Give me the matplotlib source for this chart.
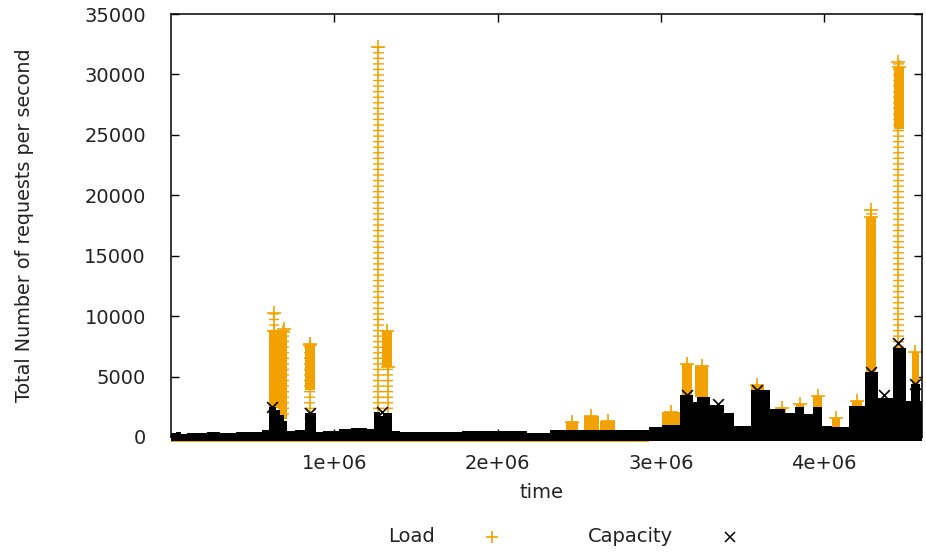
import matplotlib
matplotlib.use("Agg")
import matplotlib.pyplot as plt
from matplotlib.lines import Line2D
from matplotlib.ticker import FuncFormatter
import numpy as np

ORANGE = "#f2a200"

# capacity envelope (black), step profile: time (s) -> requests/s
cap_t = [0.00e6, 0.03e6, 0.06e6, 0.10e6, 0.16e6, 0.22e6, 0.30e6, 0.40e6, 0.50e6,
         0.56e6, 0.60e6, 0.645e6, 0.67e6, 0.69e6, 0.71e6, 0.76e6, 0.82e6, 0.89e6,
         0.93e6, 1.03e6, 1.10e6, 1.20e6, 1.245e6, 1.28e6, 1.30e6, 1.355e6, 1.40e6,
         1.55e6, 1.78e6, 1.95e6, 2.18e6, 2.32e6, 2.50e6, 2.63e6, 2.80e6, 2.93e6,
         3.01e6, 3.12e6, 3.20e6, 3.22e6, 3.30e6, 3.39e6, 3.45e6, 3.55e6, 3.67e6,
         3.76e6, 3.82e6, 3.88e6, 3.93e6, 3.99e6, 4.05e6, 4.15e6, 4.25e6, 4.33e6,
         4.42e6, 4.50e6, 4.53e6, 4.59e6, 4.60e6]
cap_v = [300, 450, 250, 300, 350, 450, 350, 400, 450,
         600, 2500, 2200, 1800, 1300, 500, 550, 2000, 450,
         500, 700, 750, 650, 2100, 1700, 2000, 500, 400,
         450, 500, 520, 330, 580, 620, 560, 600, 800,
         1000, 3500, 2900, 3300, 2650, 2000, 900, 3900, 2300,
         2000, 2500, 1900, 2500, 900, 800, 2600, 5400, 3200,
         7400, 3000, 4400, 3000, 3000]

# load: solid blocks of '+' points (start, end, low, high)
blk_t0 = [0.60e6, 0.66e6, 0.82e6, 1.29e6, 2.42e6, 2.53e6, 2.63e6, 3.01e6, 3.13e6,
          3.21e6, 3.55e6, 3.72e6, 3.83e6, 3.93e6, 4.05e6, 4.17e6, 4.26e6, 4.43e6, 4.54e6]
blk_t1 = [0.66e6, 0.71e6, 0.88e6, 1.355e6, 2.49e6, 2.62e6, 2.72e6, 3.12e6, 3.19e6,
          3.29e6, 3.63e6, 3.77e6, 3.88e6, 3.99e6, 4.10e6, 4.23e6, 4.32e6, 4.49e6, 4.58e6]
blk_lo = [2400, 1500, 3900, 5800, 300, 300, 300, 800, 3400,
          3300, 3900, 2000, 2000, 2000, 800, 2600, 5400, 25500, 4400]
blk_hi = [8800, 8700, 7600, 8800, 1200, 1700, 1300, 2100, 6000,
          5900, 4300, 2400, 2700, 3400, 1600, 3000, 18200, 30600, 7000]

# load: sparse columns of '+' points (centre, low, high)
col_t = [0.63e6, 0.69e6, 0.85e6, 1.27e6, 1.33e6, 4.29e6, 4.455e6]
col_lo = [8800, 1500, 2000, 2000, 2000, 18200, 7400]
col_hi = [10300, 8900, 7700, 32300, 5800, 18800, 31000]

# capacity peaks marked with 'x'
xpk_t = [0.62e6, 0.85e6, 1.29e6, 3.16e6, 3.35e6, 3.59e6, 4.29e6, 4.37e6, 4.455e6, 4.56e6]
xpk_v = [2500, 2000, 2100, 3500, 2700, 3900, 5400, 3500, 7800, 4400]

yticks = [0, 5000, 10000, 15000, 20000, 25000, 30000, 35000]
xticks = [1e6, 2e6, 3e6, 4e6]

plt.rcParams["font.family"] = "DejaVu Sans"
plt.rcParams["hatch.linewidth"] = 1.0
plt.rcParams["hatch.color"] = ORANGE

fig = plt.figure(figsize=(9.26, 5.54), dpi=100)
ax = fig.add_axes([171 / 926, 1 - 437 / 554, 751 / 926, 423 / 554])

col_w = 0.065e6
# sparse columns: horizontal arms (hatch) + vertical stem
ax.bar(col_t, np.subtract(col_hi, col_lo), bottom=col_lo, width=col_w,
       facecolor="none", edgecolor=ORANGE, hatch="---", linewidth=0, zorder=2)
ax.vlines(col_t, col_lo, col_hi, color=ORANGE, lw=1.2, zorder=2)
ax.scatter(col_t, col_hi, marker="+", s=90, color=ORANGE, lw=1.2, zorder=2)

# dense blocks
ax.bar(blk_t0, np.subtract(blk_hi, blk_lo), bottom=blk_lo,
       width=np.subtract(blk_t1, blk_t0), align="edge",
       color=ORANGE, linewidth=0, zorder=2)
ax.scatter(np.add(blk_t0, blk_t1) / 2, blk_hi, marker="+", s=90, color=ORANGE,
           lw=1.2, zorder=2)

# load points at ~0 show as a thin orange line under the floor
ax.fill_between([0, 2.93e6], -420, -300, color=ORANGE, lw=0, clip_on=False, zorder=2)

# capacity floor
ax.fill_between(cap_t, -330, cap_v, step="post", color="black", lw=0,
                clip_on=False, zorder=3)
ax.scatter(xpk_t, xpk_v, marker="x", s=60, color="black", lw=1.2, zorder=3)

ax.set_xlim(0, 4.6e6)
ax.set_ylim(0, 35000)
ax.set_yticks(yticks)
ax.set_xticks(xticks)
ax.xaxis.set_major_formatter(FuncFormatter(lambda v, p: f"{v:.0e}"))
ax.tick_params(direction="in", length=6, width=1, top=True, right=True,
               labelsize=14, labelcolor="#222222")
ax.tick_params(axis="y", pad=18)
ax.tick_params(axis="x", pad=12)
for s in ax.spines.values():
    s.set_linewidth(1.1)
    s.set_zorder(5)

fig.text(25 / 926, 1 - 225 / 554, "Total Number of requests per second",
         rotation=90, ha="center", va="center", fontsize=13.8, color="#222222")
fig.text(541 / 926, 1 - 492 / 554, "time", ha="center", va="center",
         fontsize=14, color="#222222")

# legend, gnuplot style: text then sample
fig.text(435 / 926, 1 - 536 / 554, "Load", ha="right", va="center",
         fontsize=14, color="#222222")
fig.add_artist(Line2D([492 / 926], [1 - 537 / 554], marker="+", markersize=9,
                      color=ORANGE, lw=0, mew=1.2, transform=fig.transFigure))
fig.text(673 / 926, 1 - 536 / 554, "Capacity", ha="right", va="center",
         fontsize=14, color="#222222")
fig.add_artist(Line2D([730 / 926], [1 - 537 / 554], marker="x", markersize=7,
                      color="black", lw=0, mew=1.1, transform=fig.transFigure))

fig.savefig("out.png", dpi=100)
